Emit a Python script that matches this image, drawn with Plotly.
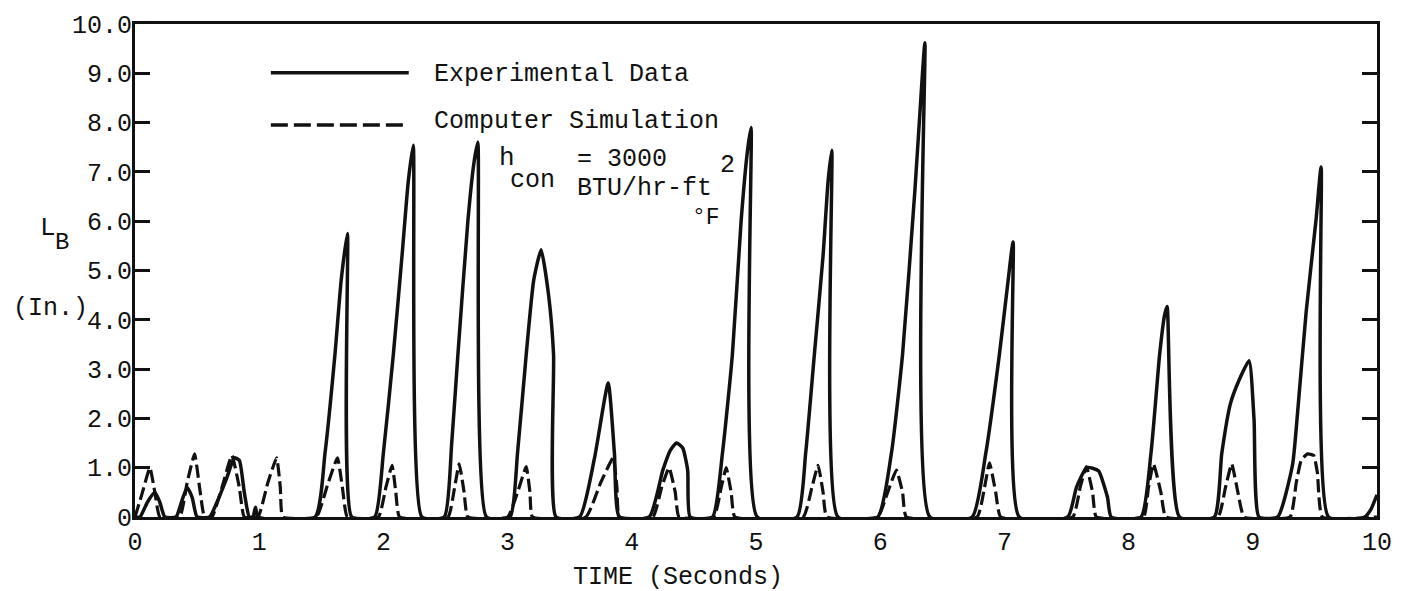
import plotly.graph_objects as go

# Experimental data: bubble length L_B (in.) versus time (s)
exp_time = [
    0.00, 0.04, 0.10, 0.16, 0.20, 0.24,
    0.33, 0.38, 0.42, 0.46, 0.50,
    0.60, 0.66, 0.74, 0.80, 0.84, 0.88, 0.92,
    0.95, 0.97, 0.99,
    1.45, 1.53, 1.61, 1.66, 1.71, 1.745,
    1.93, 2.00, 2.08, 2.15, 2.20, 2.24, 2.31,
    2.49, 2.55, 2.60, 2.68, 2.73, 2.76, 2.83,
    3.02, 3.08, 3.15, 3.21, 3.27, 3.33, 3.37, 3.39,
    3.58, 3.70, 3.81, 3.86, 3.90,
    4.14, 4.25, 4.31, 4.36, 4.41, 4.45, 4.47,
    4.65, 4.73, 4.81, 4.88, 4.93, 4.96, 5.01,
    5.33, 5.40, 5.47, 5.54, 5.58, 5.61, 5.66,
    5.98, 6.09, 6.18, 6.28, 6.33, 6.36, 6.40,
    6.74, 6.85, 6.96, 7.03, 7.07, 7.12,
    7.51, 7.58, 7.66, 7.71, 7.76, 7.83, 7.86,
    8.10, 8.18, 8.25, 8.29, 8.31, 8.41,
    8.69, 8.75, 8.82, 8.89, 8.97, 9.01, 9.05,
    9.20, 9.32, 9.36, 9.43, 9.51, 9.55, 9.61,
    9.90, 9.95, 10.00,
]
exp_lb = [
    0.0, 0.0, 0.3, 0.5, 0.3, 0.0,
    0.0, 0.35, 0.6, 0.4, 0.0,
    0.0, 0.3, 0.8, 1.2, 1.15, 0.5, 0.0,
    0.0, 0.2, 0.0,
    0.0, 1.3, 3.3, 4.8, 5.75, 0.0,
    0.0, 1.3, 3.3, 5.3, 6.8, 7.54, 0.0,
    0.0, 1.5, 3.3, 6.0, 7.2, 7.6, 0.0,
    0.0, 1.3, 3.3, 4.8, 5.42, 4.5, 3.3, 0.0,
    0.0, 1.2, 2.72, 1.3, 0.0,
    0.0, 0.95, 1.35, 1.5, 1.4, 0.95, 0.0,
    0.0, 1.3, 3.3, 6.0, 7.4, 7.9, 0.0,
    0.0, 1.3, 3.3, 5.3, 6.8, 7.44, 0.0,
    0.0, 1.29, 3.3, 6.65, 8.6, 9.62, 0.0,
    0.0, 1.29, 3.3, 4.8, 5.58, 0.0,
    0.0, 0.6, 1.0, 0.99, 0.93, 0.4, 0.0,
    0.0, 1.29, 3.3, 4.1, 4.27, 0.0,
    0.0, 1.29, 2.3, 2.78, 3.17, 1.98, 0.0,
    0.0, 1.06, 2.1, 4.17, 6.05, 7.1, 0.0,
    0.0, 0.15, 0.45,
]

# Computer simulation, h_con = 3000 BTU/hr-ft^2 F
sim_time = [
    0.00, 0.06, 0.12, 0.16, 0.20,
    0.36, 0.42, 0.48, 0.52, 0.56,
    0.62, 0.70, 0.78, 0.84, 0.88,
    0.99, 1.07, 1.14, 1.17, 1.19,
    1.46, 1.55, 1.63, 1.67, 1.71,
    1.96, 2.02, 2.07, 2.10, 2.13,
    2.52, 2.57, 2.61, 2.65, 2.68,
    3.00, 3.08, 3.15, 3.18, 3.20,
    3.63, 3.75, 3.85, 3.88, 3.90,
    4.17, 4.24, 4.30, 4.35, 4.38,
    4.66, 4.72, 4.76, 4.80, 4.83,
    5.38, 5.45, 5.50, 5.54, 5.57,
    5.98, 6.06, 6.13, 6.18, 6.21,
    6.78, 6.84, 6.88, 6.93, 6.97,
    7.55, 7.61, 7.66, 7.71, 7.74,
    8.12, 8.16, 8.20, 8.26, 8.30,
    8.72, 8.78, 8.83, 8.88, 8.93,
    9.30, 9.35, 9.39, 9.44, 9.49, 9.52, 9.56,
    10.00,
]
sim_lb = [
    0.0, 0.5, 1.0, 0.5, 0.0,
    0.0, 0.7, 1.28, 0.6, 0.0,
    0.0, 0.6, 1.25, 0.6, 0.0,
    0.0, 0.7, 1.2, 0.6, 0.0,
    0.0, 0.65, 1.2, 0.6, 0.0,
    0.0, 0.6, 1.05, 0.5, 0.0,
    0.0, 0.55, 1.08, 0.5, 0.0,
    0.0, 0.5, 1.02, 0.5, 0.0,
    0.0, 0.7, 1.2, 0.6, 0.0,
    0.0, 0.6, 1.0, 0.5, 0.0,
    0.0, 0.6, 1.0, 0.5, 0.0,
    0.0, 0.6, 1.05, 0.5, 0.0,
    0.0, 0.5, 0.95, 0.5, 0.0,
    0.0, 0.6, 1.1, 0.5, 0.0,
    0.0, 0.6, 1.02, 0.5, 0.0,
    0.0, 0.6, 1.08, 0.5, 0.0,
    0.0, 0.6, 1.08, 0.5, 0.0,
    0.0, 0.7, 1.15, 1.28, 1.25, 0.9, 0.0,
    0.0,
]

x_ticks = [0, 1, 2, 3, 4, 5, 6, 7, 8, 9, 10]
x_tick_text = ["0", "1", "2", "3", "4", "5", "6", "7", "8", "9", "10"]
y_ticks = [0, 1, 2, 3, 4, 5, 6, 7, 8, 9, 10]
y_tick_text = ["0", "1.0", "2.0", "3.0", "4.0", "5.0", "6.0", "7.0", "8.0", "9.0", "10.0"]

FONT = "Liberation Mono"
INK = "#111111"
SIM_DASH = "13px,5px"

fig = go.Figure()
fig.add_trace(go.Scatter(
    x=sim_time, y=sim_lb, mode="lines",
    line=dict(color=INK, width=3.2, dash=SIM_DASH, shape="spline", smoothing=0.4),
    name="Computer Simulation", showlegend=False,
))
fig.add_trace(go.Scatter(
    x=exp_time, y=exp_lb, mode="lines",
    line=dict(color=INK, width=3.5, shape="spline", smoothing=0.5),
    name="Experimental Data", showlegend=False,
))

# hand-drawn style key
fig.add_shape(type="line", x0=1.094, x1=2.204, y0=9.01, y1=9.01,
              xref="x", yref="y", line=dict(color=INK, width=3.5))
fig.add_shape(type="line", x0=1.094, x1=2.204, y0=7.95, y1=7.95,
              xref="x", yref="y", line=dict(color=INK, width=3.5, dash="17px,6px"))


def note(text, x, y, size=25, xref="x", yref="y"):
    fig.add_annotation(text=text, x=x, y=y, xref=xref, yref=yref,
                       xanchor="left", yanchor="middle", showarrow=False,
                       borderpad=0,
                       font=dict(family=FONT, size=size, color=INK))


note("Experimental Data", 2.40, 8.97)
note("Computer Simulation", 2.40, 8.02)
note("h", 2.92, 7.28, size=26)
note("con", 3.01, 6.83)
note("= 3000", 3.55, 7.26)
note("BTU/hr-ft", 3.55, 6.66)
note("2", 4.70, 7.12)
note("°F", 4.48, 6.06, size=23)

# axis titles
note("L", -0.077, 0.587, size=26, xref="paper", yref="paper")
note("B", -0.065, 0.556, size=24, xref="paper", yref="paper")
note("(In.)", -0.099, 0.423, size=25, xref="paper", yref="paper")
note("TIME (Seconds)", 0.352, -0.122, size=25, xref="paper", yref="paper")

fig.update_layout(
    width=1404, height=591,
    margin=dict(l=135, r=26, t=21, b=74),
    paper_bgcolor="white", plot_bgcolor="white",
    showlegend=False,
    font=dict(family=FONT, size=25, color=INK),
)
fig.update_xaxes(
    range=[0, 10], tickvals=x_ticks, ticktext=x_tick_text,
    showgrid=False, zeroline=False,
    showline=True, linewidth=3, linecolor=INK, mirror=True,
    ticks="", tickfont=dict(family=FONT, size=25, color=INK),
)
fig.update_yaxes(
    range=[0, 10], tickvals=y_ticks, ticktext=y_tick_text,
    showgrid=False, zeroline=False,
    showline=True, linewidth=3, linecolor=INK, mirror="ticks",
    ticks="inside", ticklen=15, tickwidth=3, tickcolor=INK,
    ticklabelstandoff=-5,
    tickfont=dict(family=FONT, size=25, color=INK),
)

fig.write_html("out.html")
